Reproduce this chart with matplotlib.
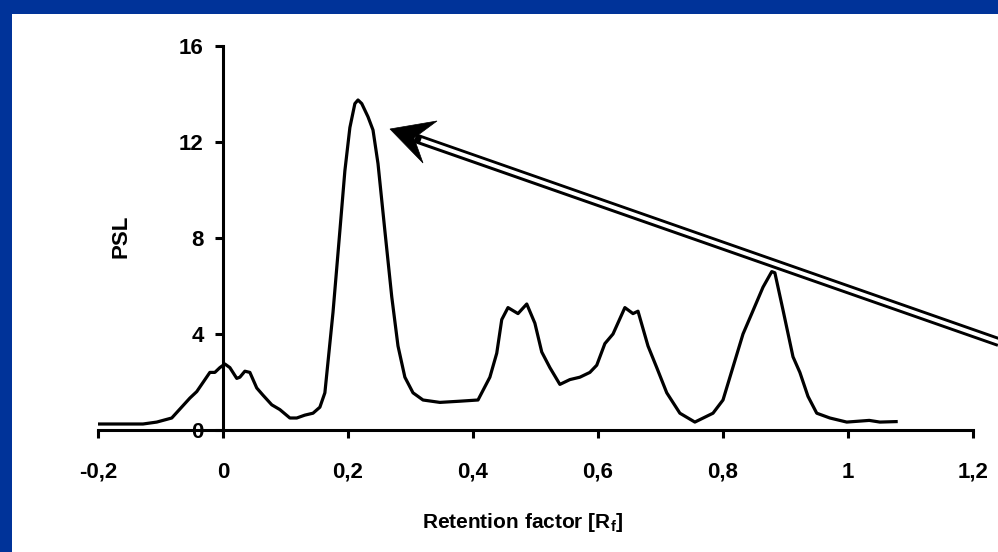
import matplotlib
matplotlib.use("Agg")
import matplotlib.pyplot as plt
from matplotlib.lines import Line2D
from matplotlib.patches import Polygon, Rectangle

plt.rcParams['font.family'] = ['Liberation Sans', 'DejaVu Sans']
plt.rcParams['mathtext.fontset'] = 'custom'
plt.rcParams['mathtext.bf'] = 'Liberation Sans:bold'
plt.rcParams['mathtext.rm'] = 'Liberation Sans:bold'

# ---- data ----
rf = [-0.200, -0.128, -0.106, -0.082, -0.053, -0.042, -0.021, -0.013, -0.005, 0.003,
      0.011, 0.022, 0.027, 0.035, 0.043, 0.054, 0.064, 0.078, 0.091, 0.107,
      0.118, 0.131, 0.144, 0.155, 0.163, 0.176, 0.187, 0.195, 0.203, 0.211,
      0.216, 0.222, 0.232, 0.240, 0.248, 0.259, 0.270, 0.280, 0.291, 0.304,
      0.320, 0.347, 0.379, 0.408, 0.427, 0.438, 0.446, 0.456, 0.472, 0.486,
      0.499, 0.510, 0.523, 0.539, 0.555, 0.571, 0.587, 0.598, 0.611, 0.624,
      0.643, 0.656, 0.664, 0.680, 0.694, 0.710, 0.731, 0.755, 0.784, 0.800,
      0.832, 0.846, 0.864, 0.878, 0.883, 0.896, 0.912, 0.923, 0.936, 0.950,
      0.971, 0.998, 1.034, 1.051, 1.077]
psl = [0.25, 0.25, 0.33, 0.50, 1.33, 1.60, 2.40, 2.40, 2.60, 2.75,
       2.60, 2.15, 2.20, 2.45, 2.40, 1.75, 1.45, 1.05, 0.85, 0.50,
       0.50, 0.62, 0.70, 0.95, 1.55, 4.90, 8.30, 10.8, 12.6, 13.6,
       13.75, 13.6, 13.05, 12.5, 11.1, 8.30, 5.55, 3.50, 2.20, 1.55,
       1.25, 1.15, 1.20, 1.25, 2.20, 3.20, 4.60, 5.10, 4.85, 5.25,
       4.45, 3.25, 2.60, 1.90, 2.10, 2.20, 2.40, 2.70, 3.60, 4.00,
       5.10, 4.85, 4.95, 3.50, 2.60, 1.55, 0.70, 0.33, 0.70, 1.25,
       4.00, 4.85, 5.95, 6.60, 6.55, 5.00, 3.05, 2.40, 1.40, 0.70,
       0.50, 0.33, 0.40, 0.33, 0.35]
x_ticks = [-0.2, 0, 0.2, 0.4, 0.6, 0.8, 1.0, 1.2]
x_tick_labels = ['-0,2', '0', '0,2', '0,4', '0,6', '0,8', '1', '1,2']
y_ticks = [0, 4, 8, 12, 16]
y_tick_labels = ['0', '4', '8', '12', '16']

W, H = 998, 552
fig = plt.figure(figsize=(W / 100, H / 100), dpi=100)
fig.patch.set_facecolor('white')

def fx(px):
    return px / W

def fy(py):
    return (H - py) / H

# blue frame (top and left)
blue = '#003399'
fig.patches.append(Rectangle((0, fy(14)), 1, 1 - fy(14), transform=fig.transFigure,
                             facecolor=blue, edgecolor='none', zorder=0))
fig.patches.append(Rectangle((0, 0), fx(12), 1, transform=fig.transFigure,
                             facecolor=blue, edgecolor='none', zorder=0))

ax = fig.add_axes([fx(98), fy(430), fx(973) - fx(98), fy(46) - fy(430)])
ax.set_facecolor('none')
ax.plot(rf, psl, color='black', lw=2.3, solid_joinstyle='round')
ax.set_xlim(-0.2, 1.2)
ax.set_ylim(0, 16)

for s in ['top', 'right']:
    ax.spines[s].set_visible(False)
ax.spines['left'].set_position(('data', 0))
for s in ['left', 'bottom']:
    ax.spines[s].set_linewidth(2.2)

ax.set_xticks(x_ticks)
ax.set_xticklabels(x_tick_labels)
ax.set_yticks(y_ticks)
ax.set_yticklabels(y_tick_labels)
ax.tick_params(axis='x', direction='out', length=6, width=2.2, pad=17, labelsize=16)
ax.tick_params(axis='y', direction='out', length=6, width=2.2, pad=8, labelsize=16)
for lab in ax.get_xticklabels() + ax.get_yticklabels():
    lab.set_fontweight('bold')

fig.text(fx(121), fy(236), 'PSL', rotation=90, ha='center', va='center',
         fontsize=16, fontweight='bold')
fig.text(fx(523), fy(523), r'Retention factor [R$_{\mathbf{f}}$]', ha='center', va='center',
         fontsize=15, fontweight='bold')

# double-line arrow
tail = (1010, 346)
notch = (415, 138)
fig.add_artist(Line2D([fx(tail[0]), fx(notch[0])], [fy(tail[1]), fy(notch[1])],
                      transform=fig.transFigure, color='black', lw=7, solid_capstyle='butt'))
fig.add_artist(Line2D([fx(tail[0]), fx(notch[0] + 6)], [fy(tail[1]), fy(notch[1] + 2)],
                      transform=fig.transFigure, color='white', lw=2.8, solid_capstyle='butt'))
head = [(390, 129), (437, 121), (414, 138), (423, 163)]
fig.add_artist(Polygon([(fx(a), fy(b)) for a, b in head], closed=True,
                       transform=fig.transFigure, facecolor='black', edgecolor='black', lw=0.5))

fig.savefig('out.png', dpi=100)
